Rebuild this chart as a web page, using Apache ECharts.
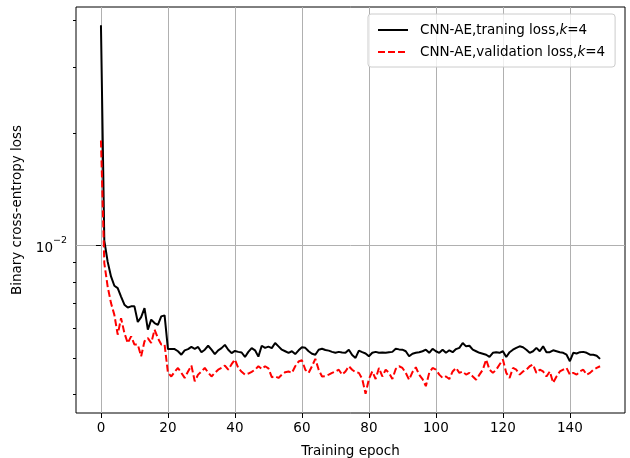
<!DOCTYPE html>
<html>
<head>
<meta charset="utf-8">
<style>
  html, body { margin: 0; padding: 0; background: #ffffff; }
  #chart { width: 630px; height: 458px; }
</style>
<script src="https://cdn.jsdelivr.net/npm/echarts@6/dist/echarts.min.js"></script>
</head>
<body>
<div id="chart"></div>
<script>
// Training epochs 0..149
const epochs = Array.from({ length: 150 }, (_, i) => i);

// Binary cross-entropy per epoch (training)
const trainLoss = [
  0.0388, 0.0103, 0.00906, 0.00827, 0.00781, 0.00770, 0.00731, 0.00695, 0.00683, 0.00688,
  0.00688, 0.00625, 0.00644, 0.00681, 0.00596, 0.00634, 0.00621, 0.00614, 0.00647, 0.00651,
  0.00529, 0.00529, 0.00529, 0.00522, 0.00511, 0.00525, 0.00529, 0.00536, 0.00530, 0.00536,
  0.00519, 0.00527, 0.00540, 0.00527, 0.00513, 0.00525, 0.00532, 0.00543, 0.00527, 0.00516,
  0.00523, 0.00520, 0.00518, 0.00504, 0.00520, 0.00532, 0.00525, 0.00505, 0.00540, 0.00533,
  0.00537, 0.00532, 0.00549, 0.00538, 0.00527, 0.00522, 0.00517, 0.00522, 0.00513, 0.00525,
  0.00535, 0.00533, 0.00522, 0.00514, 0.00511, 0.00527, 0.00530, 0.00526, 0.00524, 0.00520,
  0.00517, 0.00520, 0.00518, 0.00517, 0.00527, 0.00510, 0.00501, 0.00524, 0.00519, 0.00515,
  0.00506, 0.00517, 0.00520, 0.00517, 0.00518, 0.00517, 0.00519, 0.00520, 0.00530, 0.00528,
  0.00527, 0.00522, 0.00506, 0.00514, 0.00517, 0.00519, 0.00522, 0.00527, 0.00517, 0.00530,
  0.00522, 0.00517, 0.00527, 0.00517, 0.00525, 0.00519, 0.00529, 0.00533, 0.00549, 0.00538,
  0.00540, 0.00527, 0.00522, 0.00517, 0.00514, 0.00511, 0.00504, 0.00517, 0.00519, 0.00517,
  0.00522, 0.00504, 0.00519, 0.00527, 0.00533, 0.00538, 0.00535, 0.00527, 0.00517, 0.00522,
  0.00533, 0.00522, 0.00538, 0.00519, 0.00519, 0.00525, 0.00522, 0.00519, 0.00517, 0.00511,
  0.00491, 0.00517, 0.00515, 0.00519, 0.00520, 0.00517, 0.00511, 0.00511, 0.00508, 0.00498
];

// Binary cross-entropy per epoch (validation)
const valLoss = [
  0.0191, 0.00898, 0.00777, 0.00702, 0.00653, 0.00578, 0.00640, 0.00584, 0.00549, 0.00572,
  0.00544, 0.00544, 0.00506, 0.00555, 0.00566, 0.00549, 0.00596, 0.00566, 0.00544, 0.00544,
  0.00457, 0.00447, 0.00460, 0.00471, 0.00457, 0.00443, 0.00461, 0.00478, 0.00434, 0.00452,
  0.00461, 0.00471, 0.00458, 0.00447, 0.00457, 0.00466, 0.00471, 0.00478, 0.00466, 0.00482,
  0.00496, 0.00471, 0.00460, 0.00452, 0.00455, 0.00460, 0.00466, 0.00476, 0.00468, 0.00476,
  0.00470, 0.00445, 0.00447, 0.00443, 0.00452, 0.00459, 0.00461, 0.00457, 0.00476, 0.00490,
  0.00494, 0.00466, 0.00457, 0.00476, 0.00498, 0.00466, 0.00447, 0.00448, 0.00452, 0.00457,
  0.00461, 0.00466, 0.00452, 0.00461, 0.00476, 0.00466, 0.00459, 0.00457, 0.00440, 0.00402,
  0.00440, 0.00461, 0.00440, 0.00471, 0.00447, 0.00466, 0.00457, 0.00440, 0.00468, 0.00476,
  0.00471, 0.00457, 0.00438, 0.00459, 0.00473, 0.00452, 0.00440, 0.00421, 0.00457, 0.00471,
  0.00466, 0.00452, 0.00443, 0.00447, 0.00440, 0.00461, 0.00471, 0.00457, 0.00461, 0.00452,
  0.00457, 0.00447, 0.00438, 0.00452, 0.00466, 0.00496, 0.00466, 0.00457, 0.00466, 0.00481,
  0.00496, 0.00457, 0.00443, 0.00471, 0.00466, 0.00452, 0.00461, 0.00466, 0.00476, 0.00481,
  0.00457, 0.00466, 0.00461, 0.00447, 0.00461, 0.00430, 0.00447, 0.00461, 0.00466, 0.00471,
  0.00452, 0.00457, 0.00452, 0.00461, 0.00466, 0.00452, 0.00457, 0.00466, 0.00471, 0.00476
];

// Axis ticks
const xTicks = [0, 20, 40, 60, 80, 100, 120, 140];
const yMajorTicks = [0.01];
const yMinorTicks = [0.004, 0.005, 0.006, 0.007, 0.008, 0.009, 0.02, 0.03, 0.04];

const seriesNames = ['CNN-AE,traning loss,{i|k}=4', 'CNN-AE,validation loss,{i|k}=4'];

const FONT = 'DejaVu Sans';
const FS = 13.5;

const chart = echarts.init(document.getElementById('chart'), null, { renderer: 'canvas' });

chart.setOption({
  animation: false,
  backgroundColor: '#ffffff',
  textStyle: { fontFamily: FONT },
  grid: {
    left: 76, top: 7, width: 549, height: 406,
    outerBoundsMode: 'none',
    show: true, borderColor: '#000000', borderWidth: 1, backgroundColor: 'transparent'
  },
  legend: {
    orient: 'vertical',
    left: 368, top: 14,
    backgroundColor: 'rgba(255,255,255,0.8)',
    borderColor: '#cccccc', borderWidth: 1, borderRadius: 3,
    padding: [9, 10, 8, 9],
    itemWidth: 30, itemHeight: 14, itemGap: 8,
    itemStyle: { opacity: 0 },
    textStyle: {
      fontFamily: FONT, fontSize: FS, color: '#000000', padding: [0, 0, 0, 7],
      rich: { i: { fontFamily: FONT, fontSize: FS, fontStyle: 'italic', color: '#000000' } }
    },
    data: seriesNames
  },
  xAxis: {
    type: 'value', min: -7.45, max: 156.45,
    name: 'Training epoch', nameLocation: 'middle', nameGap: 31,
    nameTextStyle: { fontFamily: FONT, fontSize: FS, color: '#000000' },
    axisLine: { show: false },
    axisTick: { show: true, inside: false, length: 5, customValues: xTicks,
      lineStyle: { color: '#000000', width: 1 } },
    axisLabel: { show: true, customValues: xTicks, margin: 8,
      fontFamily: FONT, fontSize: FS, color: '#000000' },
    splitLine: { show: true, lineStyle: { color: '#b0b0b0', width: 1 } }
  },
  yAxis: [
    {
      type: 'log', logBase: 10, min: 0.00357, max: 0.0434,
      name: 'Binary cross-entropy loss', nameLocation: 'middle', nameGap: 51,
      nameTextStyle: { fontFamily: FONT, fontSize: FS, color: '#000000' },
      axisLine: { show: false },
      axisTick: { show: true, inside: false, length: 5, customValues: yMajorTicks,
        lineStyle: { color: '#000000', width: 1 } },
      axisLabel: {
        show: true, customValues: yMajorTicks, margin: 9,
        formatter: function (v) {
          const e = Math.round(Math.log10(v));
          return '{b|10}{s|' + (e < 0 ? '\u2212' + (-e) : e) + '}';
        },
        rich: {
          b: { fontFamily: FONT, fontSize: FS, color: '#000000', verticalAlign: 'bottom', lineHeight: 20 },
          s: { fontFamily: FONT, fontSize: 9.5, color: '#000000', verticalAlign: 'top', lineHeight: 20 }
        }
      },
      splitLine: { show: true, lineStyle: { color: '#b0b0b0', width: 1 } }
    },
    {
      type: 'log', logBase: 10, min: 0.00357, max: 0.0434,
      position: 'left',
      axisLine: { show: false },
      axisTick: { show: true, inside: false, length: 3, customValues: yMinorTicks,
        lineStyle: { color: '#000000', width: 1 } },
      axisLabel: { show: false },
      splitLine: { show: false }
    }
  ],
  series: [
    {
      name: seriesNames[0], type: 'line', yAxisIndex: 0,
      data: epochs.map((e, i) => [e, trainLoss[i]]),
      symbol: 'none', smooth: false, clip: true,
      lineStyle: { color: '#000000', width: 2, type: 'solid' },
      itemStyle: { color: '#000000' },
      z: 3
    },
    {
      name: seriesNames[1], type: 'line', yAxisIndex: 0,
      data: epochs.map((e, i) => [e, valLoss[i]]),
      symbol: 'none', smooth: false, clip: true,
      lineStyle: { color: '#ff0000', width: 2, type: [7, 3] },
      itemStyle: { color: '#ff0000' },
      z: 4
    }
  ]
});
</script>
</body>
</html>
